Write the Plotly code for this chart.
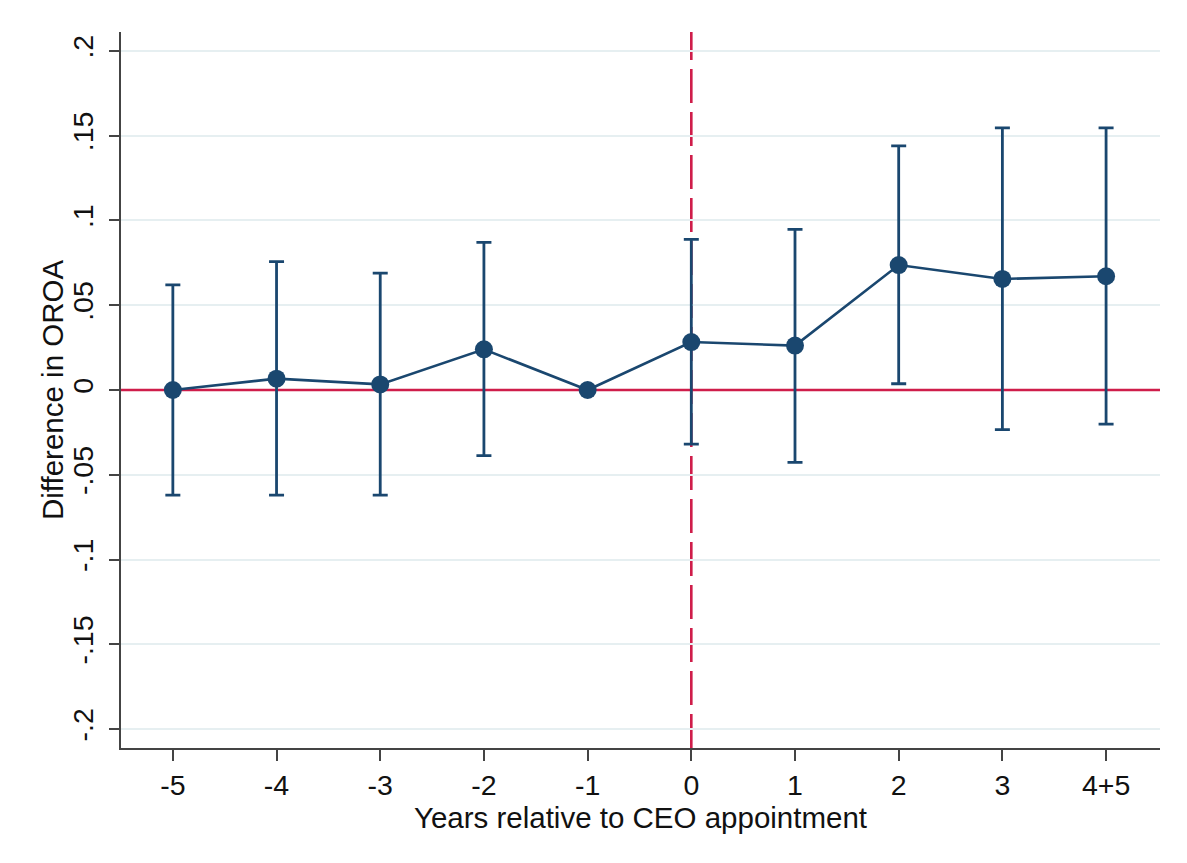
import plotly.graph_objects as go

# Event-study estimates of the change in OROA around a CEO appointment
periods = ["-5", "-4", "-3", "-2", "-1", "0", "1", "2", "3", "4+5"]
estimate = [0.0, 0.0067, 0.0033, 0.024, 0.0, 0.0283, 0.0262, 0.0737, 0.0655, 0.0671]
ci_upper = [0.062, 0.0757, 0.0689, 0.0871, None, 0.0889, 0.0948, 0.144, 0.1546, 0.1546]
ci_lower = [-0.062, -0.062, -0.062, -0.0387, None, -0.0319, -0.0427, 0.0037, -0.0234, -0.0201]

y_ticks = [0.2, 0.15, 0.1, 0.05, 0.0, -0.05, -0.1, -0.15, -0.2]
y_tick_text = [".2", ".15", ".1", ".05", "0", "-.05", "-.1", "-.15", "-.2"]

NAVY = "#1a476f"
RED = "#cf1d4a"
GRID = "#e6eff1"
AXIS = "#444444"
FONT = "Liberation Sans, Arial, sans-serif"

X_RANGE = [-0.5, 9.52]
Y_RANGE = [-0.2112, 0.2112]

x_idx = list(range(len(periods)))
err_plus = [None if u is None else u - e for u, e in zip(ci_upper, estimate)]
err_minus = [None if l is None else e - l for l, e in zip(ci_lower, estimate)]

fig = go.Figure()

# Zero-effect reference line, drawn under the estimates
fig.add_trace(go.Scatter(
    x=X_RANGE,
    y=[0, 0],
    mode="lines",
    line=dict(color=RED, width=2.6),
    showlegend=False,
    hoverinfo="skip",
))

fig.add_trace(go.Scatter(
    x=x_idx,
    y=estimate,
    mode="lines+markers",
    line=dict(color=NAVY, width=2.6),
    marker=dict(color=NAVY, size=18),
    error_y=dict(
        type="data",
        symmetric=False,
        array=err_plus,
        arrayminus=err_minus,
        color=NAVY,
        thickness=2.8,
        width=7.5,
    ),
    showlegend=False,
    hoverinfo="skip",
))

# Appointment year marker
fig.add_shape(type="line", xref="x", yref="paper", x0=5, x1=5, y0=0, y1=1,
              line=dict(color=RED, width=2.6, dash="34px,9px"), layer="between")

# Vertical y-axis title placed beside the rotated tick labels
fig.add_annotation(
    text="Difference in OROA",
    xref="paper", yref="y",
    x=(52 - 121) / 1039, y=0,
    xanchor="center", yanchor="middle",
    textangle=-90,
    showarrow=False,
    font=dict(size=29.5, family=FONT, color="#111111"),
)

fig.update_layout(
    width=1187,
    height=863,
    margin=dict(l=121, r=27, t=32, b=115),
    paper_bgcolor="white",
    plot_bgcolor="white",
    font=dict(family=FONT, size=29, color="#111111"),
    xaxis=dict(
        range=X_RANGE,
        tickmode="array",
        tickvals=x_idx,
        ticktext=periods,
        showgrid=False,
        zeroline=False,
        showline=True,
        linecolor=AXIS,
        linewidth=2,
        ticks="outside",
        ticklen=11,
        tickwidth=2,
        tickcolor=AXIS,
        tickfont=dict(size=28.5),
        title=dict(text="Years relative to CEO appointment", font=dict(size=29.5), standoff=0),
    ),
    yaxis=dict(
        range=Y_RANGE,
        tickmode="array",
        tickvals=y_ticks,
        ticktext=y_tick_text,
        tickangle=-90,
        showgrid=True,
        gridcolor=GRID,
        gridwidth=1.8,
        zeroline=False,
        showline=True,
        linecolor=AXIS,
        linewidth=2,
        ticks="outside",
        ticklen=10,
        tickwidth=2,
        tickcolor=AXIS,
        tickfont=dict(size=28.5),
        ticklabelstandoff=5,
    ),
)

fig.write_html("out.html")
